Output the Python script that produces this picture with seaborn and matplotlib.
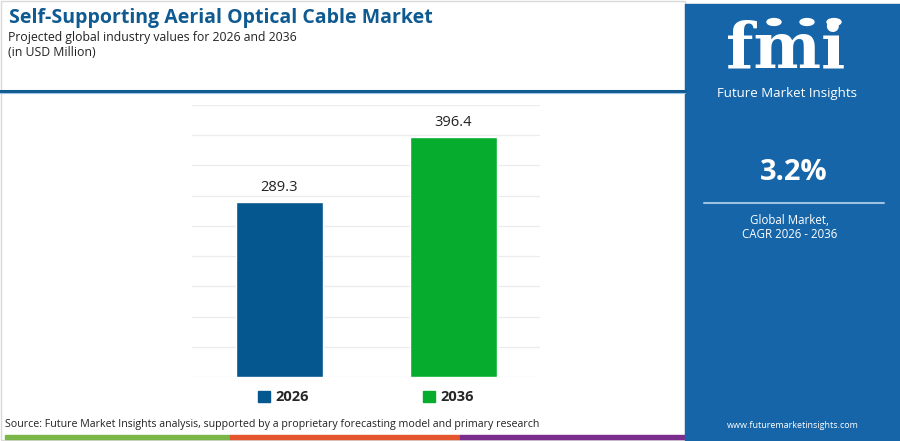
import matplotlib
matplotlib.use("Agg")
import pandas as pd
import seaborn as sns
import matplotlib.pyplot as plt
from matplotlib.patches import Rectangle, Circle
from matplotlib.lines import Line2D

# chart values
years = ["2026", "2036"]
values = [289.3, 396.4]
bar_colors = ["#05578f", "#06ac2d"]
cagr = "3.2%"

title = "Self-Supporting Aerial Optical Cable Market"
subtitle = "Projected global industry values for 2026 and 2036"
unit = "(in USD Million)"
source = "Source: Future Market Insights analysis, supported by a proprietary forecasting model and primary research"

df = pd.DataFrame({"year": years, "value": values})

sns.set_style("white")
plt.rcParams["font.family"] = ["Open Sans", "DejaVu Sans"]

fig = plt.figure(figsize=(9, 4.41), dpi=100)
W, H = 900, 441

def fx(x):
    return x / W

def fy(y):
    return 1 - y / H

# light border round the left panel
fig.patches.append(Rectangle((fx(1), fy(440)), fx(684), 439 / H, transform=fig.transFigure,
                             fill=False, edgecolor="#d9d9d9", lw=1))

# blue header line
fig.add_artist(Line2D([0, fx(685)], [fy(90.5), fy(90.5)], color="#0f5a91", lw=2.2))
fig.add_artist(Line2D([0, fx(685)], [fy(93), fy(93)], color="#9cc3e4", lw=0.8))

# title block
fig.text(fx(9), fy(18), title, fontsize=14, fontweight="bold", color="#0f5a91", va="center")
fig.text(fx(8), fy(37), subtitle, fontsize=8.8, color="#222222", va="center")
fig.text(fx(8), fy(52), unit, fontsize=8.8, color="#222222", va="center")

# bar chart
ax = fig.add_axes([fx(192), fy(377), fx(540 - 192), (377 - 105) / H])
sns.barplot(data=df, x="year", y="value", hue="year", palette=bar_colors,
            width=0.5, legend=False, ax=ax, saturation=1)
ax.set_ylim(0, 450)
ax.set_xlim(-0.5, 1.5)
ax.set_yticks(range(0, 451, 50))
ax.yaxis.grid(True, color="#ececec", lw=0.9)
ax.set_axisbelow(True)
ax.set_yticklabels([])
ax.set_xticks([])
ax.set_xlabel("")
ax.set_ylabel("")
ax.tick_params(left=False, bottom=False)
for s in ax.spines.values():
    s.set_visible(False)
for c in ax.containers:
    ax.bar_label(c, fmt="%.1f", padding=5, fontsize=10.5, color="#222222")

# legend below the bars
handles = [Rectangle((0, 0), 1, 1, color=col) for col in bar_colors]
leg = ax.legend(handles, years, loc="center", bbox_to_anchor=(0.5, -0.075), ncol=2,
                frameon=False, handlelength=0.8, handleheight=0.8, handletextpad=0.4,
                columnspacing=7.8, prop={"weight": "bold", "size": 10.5})

# source line
fig.text(fx(5), fy(425), source, fontsize=7.7, color="#222222", va="center")

# bottom colour strip
for x0, x1, col in [(5, 230, "#7ab648"), (230, 460, "#e4572e"), (460, 685, "#7b2d8e")]:
    fig.patches.append(Rectangle((fx(x0), fy(439)), fx(x1 - x0), 4 / H,
                                 transform=fig.transFigure, color=col))

# right panel
fig.patches.append(Rectangle((fx(685), 0), fx(215), fy(4), transform=fig.transFigure,
                             color="#1565a8"))
fig.text(fx(786), fy(50), "fmi", fontsize=46, fontweight="bold", color="white",
         ha="center", va="center", family="DejaVu Serif")
for yy in range(30, 80, 5):
    fig.add_artist(Line2D([fx(722), fx(852)], [fy(yy), fy(yy)], color="#1565a8", lw=1.1))
for cx in [774, 807, 834]:
    fig.patches.append(Circle((fx(cx), fy(22)), 7 / W, transform=fig.transFigure,
                              color="white"))
fig.text(fx(787), fy(93), "Future Market Insights", fontsize=9.5, color="white",
         ha="center", va="center")
fig.text(fx(794), fy(172), cagr, fontsize=21, fontweight="bold", color="white",
         ha="center", va="center")
fig.add_artist(Line2D([fx(704), fx(884)], [fy(203), fy(203)], color="#9cc3e4", lw=1.5))
fig.text(fx(789), fy(221), "Global Market,", fontsize=8.3, color="white", ha="center", va="center")
fig.text(fx(790), fy(234), "CAGR 2026 - 2036", fontsize=8.3, color="white", ha="center", va="center")
fig.text(fx(793), fy(425), "www.futuremarketinsights.com", fontsize=6.5, color="white",
         ha="center", va="center")

fig.savefig("out.png", dpi=100)
